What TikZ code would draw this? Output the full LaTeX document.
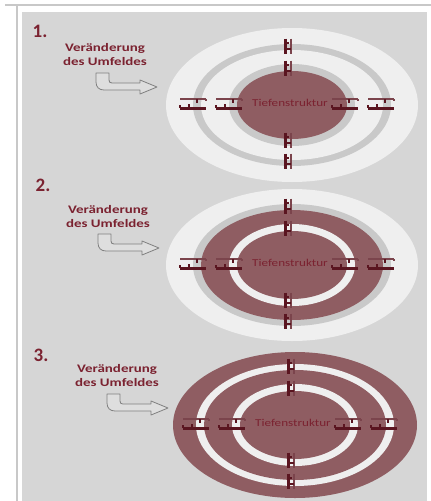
\documentclass[tikz,border=0pt]{standalone}
\usepackage{fontspec}
\setmainfont{Carlito}
\definecolor{bgg}{HTML}{D6D6D6}
\definecolor{wht}{HTML}{EFEFEF}
\definecolor{gry}{HTML}{C9C9C9}
\definecolor{drk}{HTML}{8F5D62}
\definecolor{txr}{HTML}{7B2230}
\definecolor{lnk}{HTML}{5A1520}
\definecolor{frm}{HTML}{C8C8C8}
\tikzset{
  numlabel/.style={font=\fontsize{19}{20}\selectfont\bfseries, text=txr, inner sep=0pt},
  envlabel/.style={font=\fontsize{11.5}{14.5}\selectfont\bfseries, text=txr, align=center, xscale=1.3, inner sep=0pt},
  corelabel/.style={font=\fontsize{10.5}{12}\selectfont, text=txr, xscale=1.25, inner sep=0pt},
  bentarrow/.style={draw=black!50, fill=bgg!80!white, line width=0.8pt, line join=round},
  hlink/.pic={
    \draw[lnk!80, line width=1.8pt] (-13,-5) -- (13,-5);
    \draw[lnk, line width=3pt] (-13,4) -- (13,4);
    \draw[lnk, line width=1.8pt] (4,-5) -- (4,-1);
    \draw[lnk, line width=1.8pt] (-4,4) -- (-4,0);
    \draw[lnk, line width=1.5pt] (-13,4) -- (-13,1);
    \draw[lnk!80, line width=1.3pt] (13,-5) -- (13,-3);
  },
  vlink/.pic={
    \draw[lnk, line width=3pt] (-3,-7.5) -- (-3,7.5);
    \draw[lnk!80, line width=1.8pt] (3,-7.5) -- (3,7.5);
    \draw[lnk, line width=1.6pt] (-3,-3) -- (1,-3);
    \draw[lnk, line width=1.6pt] (3,3) -- (-1,3);
  }
}
\newcommand{\rkrings}[8]{%
  \fill[#5] (#1,#2) ellipse [x radius=#3pt, y radius=#4pt];
  \fill[#6] (#1,#2) ellipse [x radius=99pt, y radius=61pt];
  \fill[#7] (#1,#2) ellipse [x radius=91pt, y radius=55pt];
  \fill[#8] (#1,#2) ellipse [x radius=63pt, y radius=41pt];
  \fill[drk] (#1,#2) ellipse [x radius=55pt, y radius=34pt];
  \pic at ({#1-99},{#2-1}) {hlink};
  \pic at ({#1-63},{#2-1}) {hlink};
  \pic at ({#1+53},{#2-1}) {hlink};
  \pic at ({#1+89},{#2-1}) {hlink};
  \pic at ({#1-4},{#2-59}) {vlink};
  \pic at ({#1-4},{#2-37}) {vlink};
  \pic at ({#1-4},{#2+35}) {vlink};
  \pic at ({#1-4},{#2+56}) {vlink};
}
\newcommand{\rkarrow}[2]{%
  \draw[bentarrow] (#1,#2) -- ++(0,9) .. controls ++(0,5) and ++(-5,0) .. ++(8,8) -- ++(36,0) -- ++(0,4) -- ++(17,-7) -- ++(-17,-7) -- ++(0,3) -- ++(-28,0) .. controls ++(-2,0) and ++(0,2) .. ++(-3,-3) -- ++(0,-7) -- cycle;
}
\begin{document}
\begin{tikzpicture}[x=1pt,y=-1pt]
\useasboundingbox (0,0) rectangle (431,501);
\fill[white] (0,0) rectangle (431,501);
\draw[frm, line width=1.5pt] (5,5) -- (431,5);
\draw[frm, line width=2pt] (17,5) -- (17,501);
\fill[bgg] (22,12) rectangle (427,501);

% Panel 1
\rkrings{292}{105}{126}{77}{wht}{gry}{wht}{gry}
\node[corelabel] (core1) at (290,103) {Tiefenstruktur};
\node[numlabel] (n1) at (40,31) {1.};
\node[envlabel] (env1) at (105,54.5) {Veränderung\\des Umfeldes};
\rkarrow{96}{73}

% Panel 2
\rkrings{292}{265}{126}{76}{wht}{gry}{drk}{wht}
\node[corelabel] (core2) at (290,263) {Tiefenstruktur};
\node[numlabel] (n2) at (43,185) {2.};
\node[envlabel] (env2) at (108,216.5) {Veränderung\\des Umfeldes};
\rkarrow{98}{234}

% Panel 3
\rkrings{295}{425}{122}{73}{drk}{wht}{drk}{wht}
\node[corelabel] (core3) at (293,423) {Tiefenstruktur};
\node[numlabel] (n3) at (41,355) {3.};
\node[envlabel] (env3) at (117,375.5) {Veränderung\\des Umfeldes};
\rkarrow{107}{394}
\end{tikzpicture}
\end{document}
